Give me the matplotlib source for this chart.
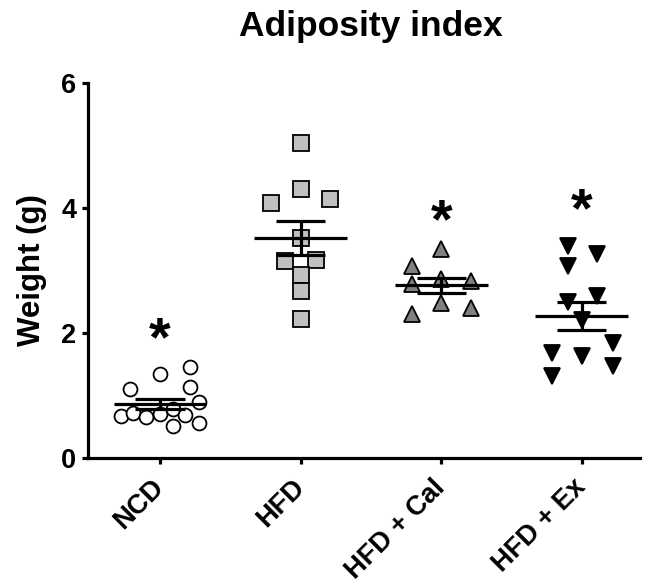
import numpy as np
import matplotlib
matplotlib.use("Agg")
import matplotlib.pyplot as plt

plt.rcParams['font.family'] = ['Liberation Sans', 'DejaVu Sans']
plt.rcParams['font.weight'] = 'bold'

categories = ["NCD", "HFD", "HFD + Cal", "HFD + Ex"]

ncd = [1.11, 1.35, 1.46, 1.13, 0.89, 0.67, 0.72, 0.66, 0.71, 0.79, 0.51, 0.69, 0.56]
ncd_off = [-0.21, 0.0, 0.21, 0.21, 0.28, -0.28, -0.19, -0.10, 0.0, 0.09, 0.09, 0.18, 0.28]

hfd = [5.04, 4.30, 4.08, 4.14, 3.52, 3.16, 3.17, 2.93, 2.68, 2.22]
hfd_off = [0.0, 0.0, -0.21, 0.21, 0.0, -0.11, 0.11, 0.0, 0.0, 0.0]

cal = [3.34, 3.07, 2.79, 2.86, 2.84, 2.48, 2.31, 2.40]
cal_off = [0.0, -0.21, -0.21, 0.0, 0.21, 0.0, -0.21, 0.21]

ex = [3.40, 3.27, 3.08, 2.49, 2.59, 2.21, 1.84, 1.68, 1.63, 1.47, 1.32]
ex_off = [-0.10, 0.11, -0.10, -0.10, 0.11, 0.0, 0.22, -0.21, 0.0, 0.22, -0.21]

star_y = [1.87, None, 3.76, 3.93]

groups = [ncd, hfd, cal, ex]
offsets = [ncd_off, hfd_off, cal_off, ex_off]
styles = [
    dict(marker='o', markersize=10, markerfacecolor='white'),
    dict(marker='s', markersize=11.5, markerfacecolor='#c0c0c0'),
    dict(marker='^', markersize=11.5, markerfacecolor='#808080'),
    dict(marker='v', markersize=11.5, markerfacecolor='black'),
]

fig = plt.figure(figsize=(6.5, 5.88), dpi=100)
ax = fig.add_axes([0.1354, 0.2211, 0.8496, 0.6377])

for i, (vals, offs, st) in enumerate(zip(groups, offsets, styles)):
    x = np.array(offs) + i
    ax.plot(x, vals, linestyle='none', markeredgecolor='black',
            markeredgewidth=1.3, zorder=2, clip_on=False, **st)
    v = np.array(vals)
    m = v.mean()
    sem = v.std(ddof=1) / np.sqrt(len(v))
    lw = 2.3
    ax.plot([i - 0.33, i + 0.33], [m, m], color='black', lw=lw, zorder=3, solid_capstyle='butt')
    ax.plot([i - 0.175, i + 0.175], [m + sem, m + sem], color='black', lw=lw, zorder=3, solid_capstyle='butt')
    ax.plot([i - 0.175, i + 0.175], [m - sem, m - sem], color='black', lw=lw, zorder=3, solid_capstyle='butt')
    ax.plot([i, i], [m - sem, m + sem], color='black', lw=lw, zorder=3, solid_capstyle='butt')
    if star_y[i] is not None:
        ax.text(i, star_y[i], '*', ha='center', va='center', fontsize=40,
                fontweight='bold', zorder=4)

ax.set_xlim(-0.512, 3.416)
ax.set_ylim(0, 6)
ax.set_yticks([0, 2, 4, 6])
ax.set_xticks(range(len(categories)))
ax.set_xticklabels(categories, rotation=45, ha='right', va='center',
                   rotation_mode='anchor', fontsize=19.5, fontweight='bold')
for lab in ax.get_yticklabels():
    lab.set_fontsize(19.5)
    lab.set_fontweight('bold')

for s in ['top', 'right']:
    ax.spines[s].set_visible(False)
for s in ['left', 'bottom']:
    ax.spines[s].set_linewidth(2.3)
ax.tick_params(axis='both', length=4.5, width=2.3, pad=4)
ax.tick_params(axis='x', pad=14)

ax.set_ylabel('Weight (g)', fontsize=22.5, fontweight='bold', labelpad=10)
fig.text(0.57, 0.955, 'Adiposity index', ha='center', va='center',
         fontsize=25.5, fontweight='bold')

fig.savefig('out.png', dpi=100)
